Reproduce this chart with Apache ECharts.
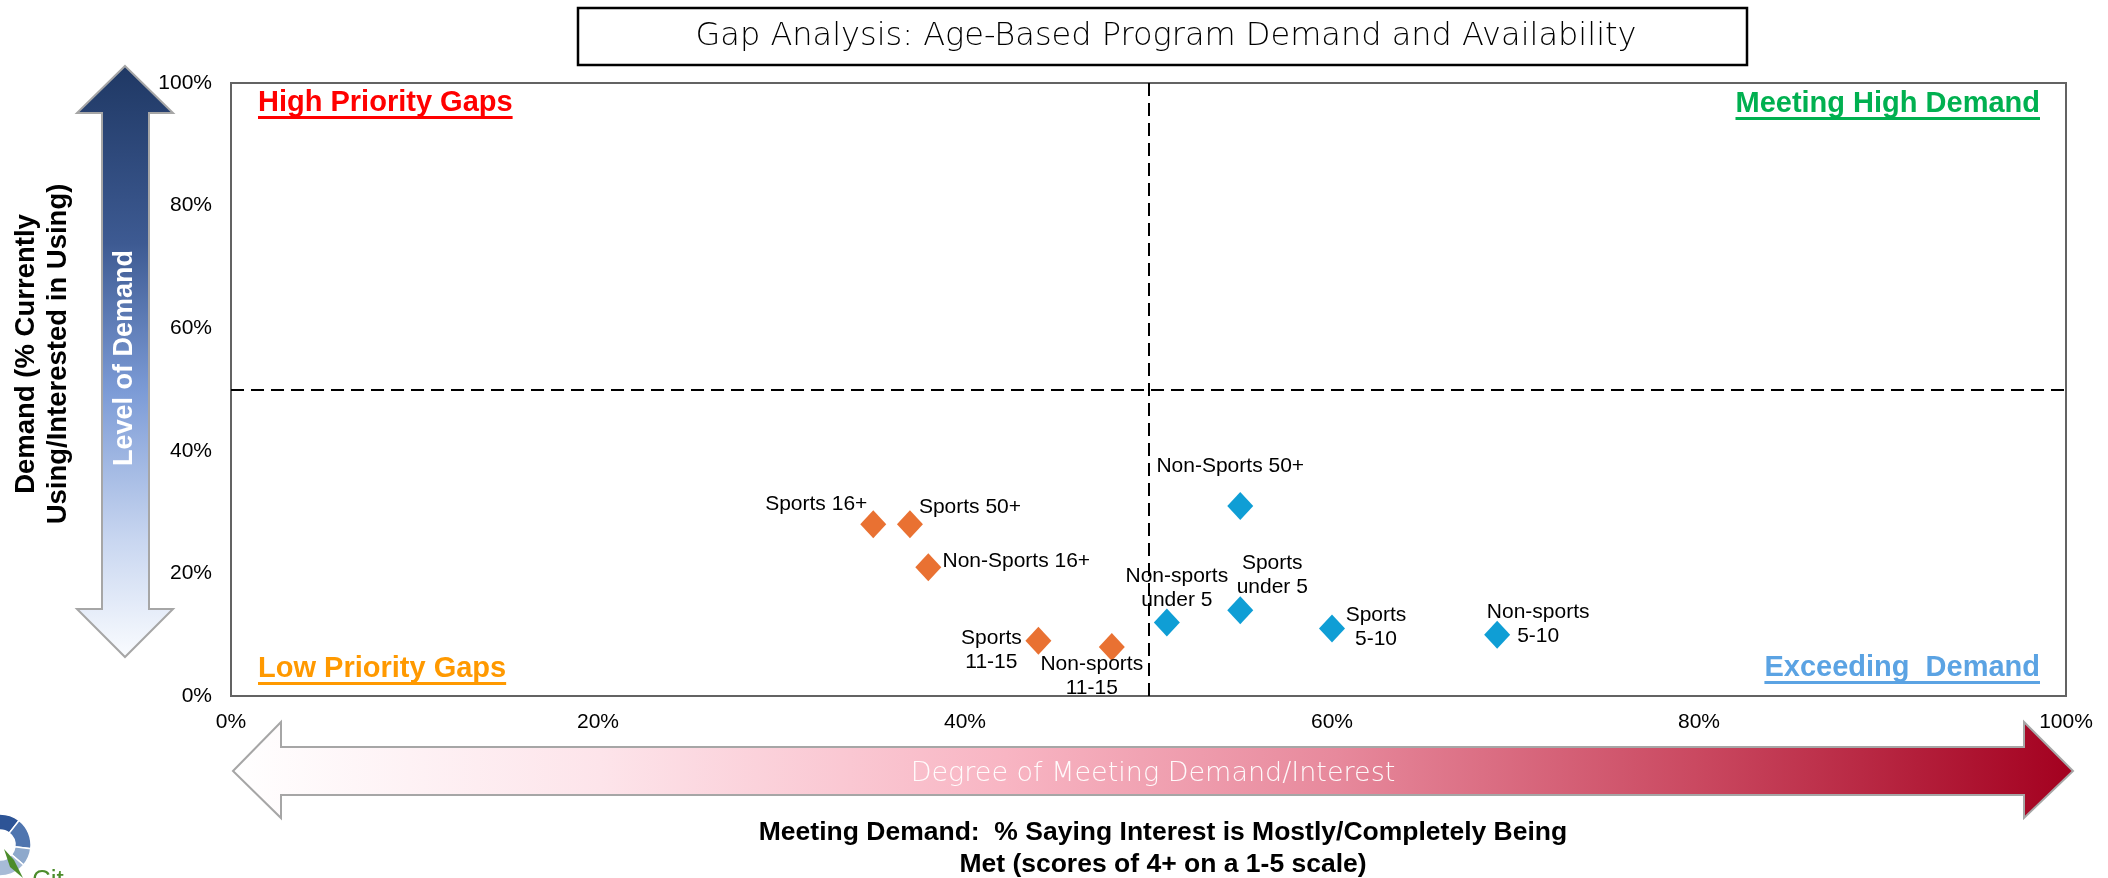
<!DOCTYPE html>
<html>
<head>
<meta charset="utf-8">
<script src="https://cdn.jsdelivr.net/npm/echarts@6/dist/echarts.min.js"></script>
<style>
html,body{margin:0;padding:0;background:#fff;}
#chart{width:2108px;height:878px;}
</style>
</head>
<body>
<div id="chart"></div>
<script>
// ---------- DATA ----------
const titleText = 'Gap Analysis: Age-Based Program Demand and Availability';
const xAxisTitle = 'Meeting Demand:  % Saying Interest is Mostly/Completely Being\nMet (scores of 4+ on a 1-5 scale)';
const yAxisTitle = 'Demand (% Currently\nUsing/Interested in Using)';
const yArrowText = 'Level of Demand';
const xArrowText = 'Degree of Meeting Demand/Interest';
const quadrantLabels = ['High Priority Gaps', 'Meeting High Demand', 'Low Priority Gaps', 'Exceeding  Demand'];

// Programs below the 50% "meeting demand" line (orange)
const gapNames = ['Sports 16+', 'Sports 50+', 'Non-Sports 16+', 'Sports\n11-15', 'Non-sports\n11-15'];
const gapMet = [35, 37, 38, 44, 48];      // x: % interest mostly/completely met
const gapDemand = [28, 28, 21, 9, 8];     // y: % currently using / interested

// Programs above the 50% line (blue)
const okNames = ['Non-Sports 50+', 'Non-sports\nunder 5', 'Sports\nunder 5', 'Sports\n5-10', 'Non-sports\n5-10'];
const okMet = [55, 51, 55, 60, 69];
const okDemand = [31, 12, 14, 11, 10];

const xTicks = [0, 20, 40, 60, 80, 100];
const yTicks = [0, 20, 40, 60, 80, 100];
const thresholdX = 50;
const thresholdY = 50;

// ---------- LAYOUT / STYLE ----------
const labelOffsets = {
  'Sports 16+': [-57, -20],
  'Sports 50+': [60, -17],
  'Non-Sports 16+': [88, -6],
  'Sports\n11-15': [-47, 9],
  'Non-sports\n11-15': [-20, 29],
  'Non-Sports 50+': [-10, -40],
  'Non-sports\nunder 5': [10, -34],
  'Sports\nunder 5': [32, -35],
  'Sports\n5-10': [44, -1],
  'Non-sports\n5-10': [41, -10]
};
const ARIAL = 'Arial, "Liberation Sans", sans-serif';
const LIGHT = '"DejaVu Sans", "Open Sans", sans-serif';

function build(names, xs, ys) {
  return names.map((n, i) => ({
    name: n,
    value: [xs[i], ys[i]],
    label: { offset: labelOffsets[n] || [0, 0] }
  }));
}

const measure = (() => {
  const c = document.createElement('canvas').getContext('2d');
  return (text, font) => { c.font = font; return c.measureText(text).width; };
})();

function quadLabel(text, color, x, yMid, alignRight) {
  const size = 29;
  const font = 'bold ' + size + 'px "Liberation Sans"';
  const w = measure(text, font);
  const left = alignRight ? x - w : x;
  return {
    type: 'group',
    children: [
      { type: 'text', x: left, y: yMid, style: { text: text, fill: color, fontFamily: ARIAL, fontSize: size, fontWeight: 'bold', align: 'left', verticalAlign: 'middle' } },
      { type: 'rect', shape: { x: left, y: yMid + 13, width: w, height: 3 }, style: { fill: color } }
    ]
  };
}

const chart = echarts.init(document.getElementById('chart'), null, { renderer: 'canvas' });

const labelStyle = {
  show: true,
  position: 'inside',
  formatter: '{b}',
  color: '#000',
  fontFamily: ARIAL,
  fontSize: 21,
  lineHeight: 24,
  align: 'center',
  verticalAlign: 'middle'
};

const option = {
  animation: false,
  backgroundColor: '#fff',
  grid: {
    left: 231, top: 83, right: 42, bottom: 182,
    show: true, borderColor: '#636363', borderWidth: 2, backgroundColor: 'transparent'
  },
  xAxis: {
    type: 'value', min: xTicks[0], max: xTicks[xTicks.length - 1], interval: xTicks[1] - xTicks[0],
    axisLine: { show: false }, axisTick: { show: false }, splitLine: { show: false },
    axisLabel: { formatter: '{value}%', color: '#000', fontFamily: ARIAL, fontSize: 21, margin: 16 }
  },
  yAxis: {
    type: 'value', min: yTicks[0], max: yTicks[yTicks.length - 1], interval: yTicks[1] - yTicks[0],
    axisLine: { show: false }, axisTick: { show: false }, splitLine: { show: false },
    axisLabel: { formatter: '{value}%', color: '#000', fontFamily: ARIAL, fontSize: 21, margin: 19 }
  },
  series: [
    {
      type: 'scatter',
      name: 'gaps',
      symbol: 'diamond',
      symbolSize: [26, 28],
      itemStyle: { color: '#E97132', opacity: 1 },
      label: labelStyle,
      data: build(gapNames, gapMet, gapDemand),
      z: 5,
      markLine: {
        silent: true,
        symbol: ['none', 'none'],
        label: { show: false },
        lineStyle: { color: '#000', type: [13, 7], width: 2, opacity: 1 },
        data: [{ xAxis: thresholdX }, { yAxis: thresholdY }],
        z: 3
      }
    },
    {
      type: 'scatter',
      name: 'meeting',
      symbol: 'diamond',
      symbolSize: [26, 28],
      itemStyle: { color: '#0F9ED5', opacity: 1 },
      label: labelStyle,
      data: build(okNames, okMet, okDemand),
      z: 5
    }
  ],
  graphic: [
    // Title box
    { type: 'rect', shape: { x: 578, y: 8, width: 1169, height: 57 }, style: { fill: '#fff', stroke: '#000', lineWidth: 2.5 } },
    { type: 'text', x: 1166, y: 37, style: { text: titleText, fill: '#000', fontFamily: LIGHT, fontSize: 32, fontWeight: 200, align: 'center', verticalAlign: 'middle' } },

    // Vertical double arrow (level of demand)
    {
      type: 'polygon',
      shape: { points: [[125, 66], [173, 113], [149, 113], [149, 609], [173, 609], [125, 657], [77, 609], [102, 609], [102, 113], [77, 113]] },
      style: {
        fill: new echarts.graphic.LinearGradient(0, 0, 0, 1, [
          { offset: 0, color: '#1F3864' },
          { offset: 0.3, color: '#3D5A92' },
          { offset: 0.55, color: '#7C9BD6' },
          { offset: 0.8, color: '#C8D6F0' },
          { offset: 1, color: '#FAFCFF' }
        ]),
        stroke: '#A6A6A6', lineWidth: 2
      }
    },
    { type: 'text', x: 125, y: 358, rotation: Math.PI / 2, style: { text: yArrowText, fill: '#fff', fontFamily: ARIAL, fontSize: 27, fontWeight: 'bold', align: 'center', verticalAlign: 'middle' } },

    // Y axis title
    { type: 'text', x: 42, y: 354, rotation: Math.PI / 2, style: { text: yAxisTitle, fill: '#000', fontFamily: ARIAL, fontSize: 27.5, fontWeight: 'bold', lineHeight: 32, align: 'center', verticalAlign: 'middle' } },

    // Horizontal double arrow (degree of meeting demand)
    {
      type: 'polygon',
      shape: { points: [[233, 771], [281, 722], [281, 747], [2024, 747], [2024, 722], [2073, 771], [2024, 818], [2024, 795], [281, 795], [281, 818]] },
      style: {
        fill: new echarts.graphic.LinearGradient(0, 0, 1, 0, [
          { offset: 0, color: '#FFFFFF' },
          { offset: 0.2, color: '#FDE4EA' },
          { offset: 0.42, color: '#F8B5C3' },
          { offset: 0.6, color: '#E7899C' },
          { offset: 0.8, color: '#C9475F' },
          { offset: 1, color: '#A3001F' }
        ]),
        stroke: '#A6A6A6', lineWidth: 2
      }
    },
    { type: 'text', x: 1153, y: 774, style: { text: xArrowText, fill: 'rgba(255,255,255,0.95)', fontFamily: LIGHT, fontSize: 27, fontWeight: 200, align: 'center', verticalAlign: 'middle' } },

    // X axis title
    { type: 'text', x: 1163, y: 849, style: { text: xAxisTitle, fill: '#000', fontFamily: ARIAL, fontSize: 26.5, fontWeight: 'bold', lineHeight: 32, align: 'center', verticalAlign: 'middle' } },

    // Quadrant labels
    quadLabel(quadrantLabels[0], '#FF0000', 258, 103, false),
    quadLabel(quadrantLabels[1], '#00B050', 2040, 104, true),
    quadLabel(quadrantLabels[2], '#FF9900', 258, 669, false),
    quadLabel(quadrantLabels[3], '#5BA3E3', 2040, 668, true),

    // Logo fragment (bottom-left)
    { type: 'sector', shape: { cx: 0, cy: 845, r: 31, r0: 15, startAngle: -Math.PI, endAngle: -0.91 }, style: { fill: '#2D5496', stroke: '#fff', lineWidth: 1.5 } },
    { type: 'sector', shape: { cx: 0, cy: 845, r: 31, r0: 15, startAngle: -0.91, endAngle: 0.12 }, style: { fill: '#4F75AF', stroke: '#fff', lineWidth: 1.5 } },
    { type: 'sector', shape: { cx: 0, cy: 845, r: 31, r0: 15, startAngle: 0.12, endAngle: 0.7 }, style: { fill: '#8EA9CC', stroke: '#fff', lineWidth: 1.5 } },
    { type: 'sector', shape: { cx: 0, cy: 845, r: 31, r0: 15, startAngle: 0.7, endAngle: 1.7 }, style: { fill: '#A7BBD6', stroke: '#fff', lineWidth: 1.5 } },
    { type: 'polygon', shape: { points: [[4, 849], [14, 860], [23, 878], [10, 867]] }, style: { fill: '#4C8C2B' } },
    { type: 'text', x: 32, y: 868, style: { text: 'Cit', fill: '#4C8C2B', fontFamily: ARIAL, fontSize: 26, align: 'left', verticalAlign: 'top' } }
  ]
};

chart.setOption(option);
</script>
</body>
</html>
